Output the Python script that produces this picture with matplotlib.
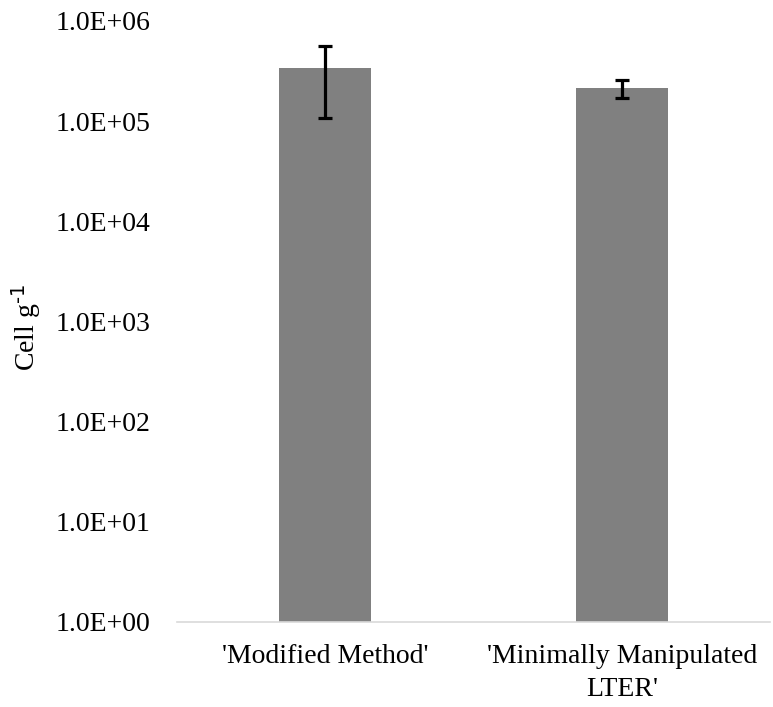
import matplotlib
matplotlib.use("Agg")
import matplotlib.pyplot as plt

categories = ["'Modified Method'", "'Minimally Manipulated\nLTER'"]
values = [3.38e5, 2.14e5]
errors = [2.3e5, 4.2e4]
ytick_values = [1e0, 1e1, 1e2, 1e3, 1e4, 1e5, 1e6]
ytick_labels = ["1.0E+00", "1.0E+01", "1.0E+02", "1.0E+03", "1.0E+04", "1.0E+05", "1.0E+06"]

plt.rcParams['font.family'] = ['Liberation Serif', 'DejaVu Serif']
plt.rcParams['mathtext.default'] = 'regular'

fig = plt.figure(figsize=(7.73, 7.07), dpi=100)
ax = fig.add_axes([177/773, 1 - 621.7/707, (770-177)/773, (621.7-21)/707])

x = list(range(len(categories)))
ax.bar(x, values, width=0.31, color='#808080', zorder=2)
ax.errorbar(x, values, yerr=errors, fmt='none', ecolor='black',
            elinewidth=2.3, capsize=4.7, capthick=2.3, zorder=3)

ax.set_yscale('log')
ax.set_ylim(1, 1e6)
ax.set_xlim(-0.5, 1.5)
ax.set_yticks(ytick_values)
ax.set_yticklabels(ytick_labels)
ax.minorticks_off()
ax.set_xticks(x)
ax.set_xticklabels(categories, linespacing=1.45)

for s in ['top', 'right', 'left']:
    ax.spines[s].set_visible(False)
ax.spines['bottom'].set_color('#d9d9d9')
ax.spines['bottom'].set_linewidth(1.2)

ax.tick_params(axis='y', length=0, pad=19, labelsize=20)
ax.tick_params(axis='x', length=0, pad=16, labelsize=20)

ax.set_ylabel('Cell g$^{\\text{-1}}$', fontsize=20)
ax.yaxis.set_label_coords(-0.226, 0.49)

fig.savefig('out.png', dpi=100)
